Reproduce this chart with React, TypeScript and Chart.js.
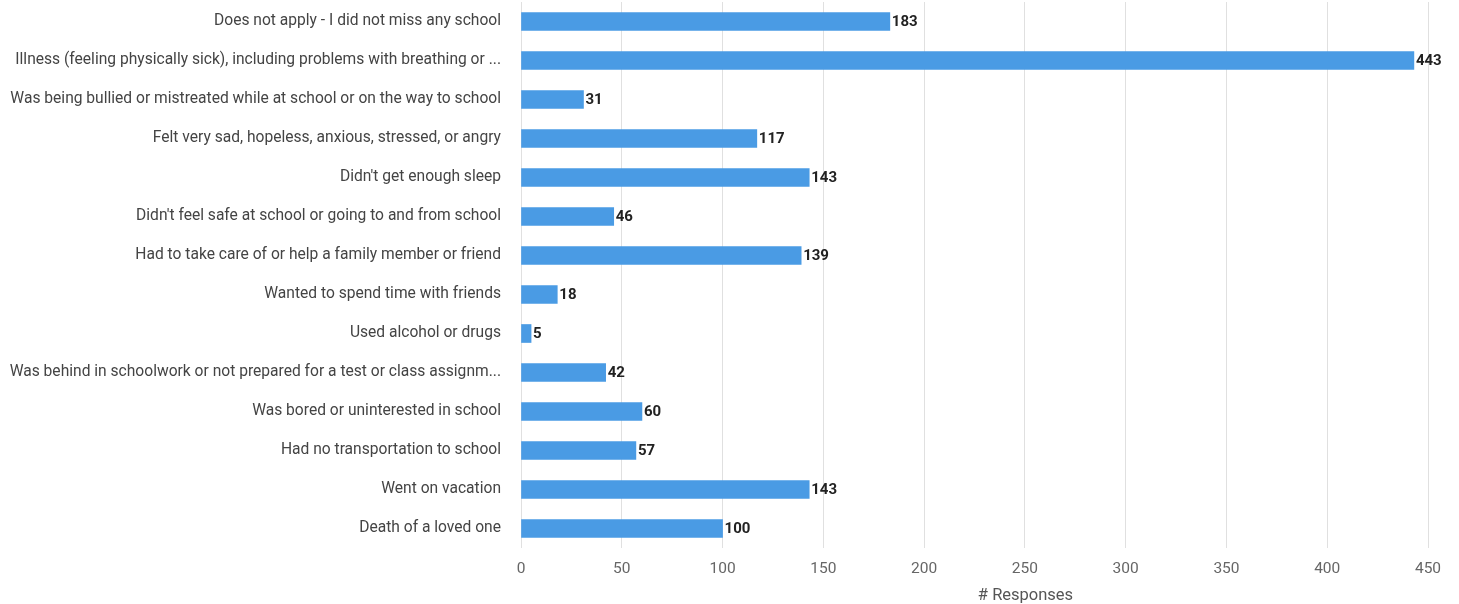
import React, { useEffect, useRef } from "react";
import { Chart, registerables } from "chart.js";

Chart.register(...registerables);

const categories: string[] = [
  "Does not apply - I did not miss any school",
  "Illness (feeling physically sick), including problems with breathing or ...",
  "Was being bullied or mistreated while at school or on the way to school",
  "Felt very sad, hopeless, anxious, stressed, or angry",
  "Didn't get enough sleep",
  "Didn't feel safe at school or going to and from school",
  "Had to take care of or help a family member or friend",
  "Wanted to spend time with friends",
  "Used alcohol or drugs",
  "Was behind in schoolwork or not prepared for a test or class assignm...",
  "Was bored or uninterested in school",
  "Had no transportation to school",
  "Went on vacation",
  "Death of a loved one",
];

const responses: number[] = [183, 443, 31, 117, 143, 46, 139, 18, 5, 42, 60, 57, 143, 100];

const xMax = 450;
const xStep = 50;
const axisTitle = "# Responses";

const valueLabelPlugin = {
  id: "valueLabels",
  afterDatasetsDraw(chart: any) {
    const ctx = chart.ctx;
    const meta = chart.getDatasetMeta(0);
    ctx.save();
    ctx.font = "bold 15px Roboto";
    ctx.fillStyle = "#222";
    ctx.textAlign = "left";
    ctx.textBaseline = "middle";
    meta.data.forEach((bar: any, i: number) => {
      const v = chart.data.datasets[0].data[i];
      ctx.fillText(String(v), bar.x + 2, bar.y + 1);
    });
    ctx.restore();
  },
};

const axisTitlePlugin = {
  id: "axisTitle",
  afterDraw(chart: any) {
    const ctx = chart.ctx;
    const area = chart.chartArea;
    ctx.save();
    ctx.font = "16.5px Roboto";
    ctx.fillStyle = "#555";
    ctx.textAlign = "center";
    ctx.textBaseline = "middle";
    ctx.fillText(axisTitle, (area.left + area.right) / 2 + 51, chart.height - 8);
    ctx.restore();
  },
};

export default function App() {
  const ref = useRef<HTMLCanvasElement>(null);
  useEffect(() => {
    if (!ref.current) return;
    const chart = new Chart(ref.current, {
      type: "bar",
      data: {
        labels: categories,
        datasets: [
          {
            data: responses,
            backgroundColor: "#4a9be4",
            borderWidth: 0,
            barThickness: 18,
          },
        ],
      },
      options: {
        indexAxis: "y",
        animation: false,
        responsive: false,
        maintainAspectRatio: false,
        layout: { padding: { top: 2, right: 31, left: 0, bottom: 0 } },
        plugins: {
          legend: { display: false },
          tooltip: { enabled: false },
        },
        scales: {
          x: {
            min: 0,
            max: xMax,
            ticks: {
              stepSize: xStep,
              color: "#666",
              font: { family: "Roboto", size: 15.5 },
              padding: 12,
            },
            grid: { color: "#e0e0e0", drawTicks: false },
            border: { display: false },
            title: { display: false },
            afterFit(scale: any) {
              scale.height = 56;
              scale.paddingTop = 0;
              scale.paddingBottom = 0;
            },
          },
          y: {
            ticks: {
              color: "#444",
              font: { family: "Roboto", size: 15.6 },
              padding: 20,
            },
            grid: { display: false, drawTicks: false },
            border: { display: false },
            afterFit(scale: any) {
              scale.width = 521;
              scale.paddingTop = 0;
              scale.paddingBottom = 0;
            },
          },
        },
      },
      plugins: [valueLabelPlugin, axisTitlePlugin],
    });
    return () => chart.destroy();
  }, []);
  return (
    <div style={{ position: "fixed", left: 0, top: 0, width: 1459, height: 604, background: "#fff" }}>
      <canvas ref={ref} width={1459} height={604} style={{ width: 1459, height: 604 }} />
    </div>
  );
}
